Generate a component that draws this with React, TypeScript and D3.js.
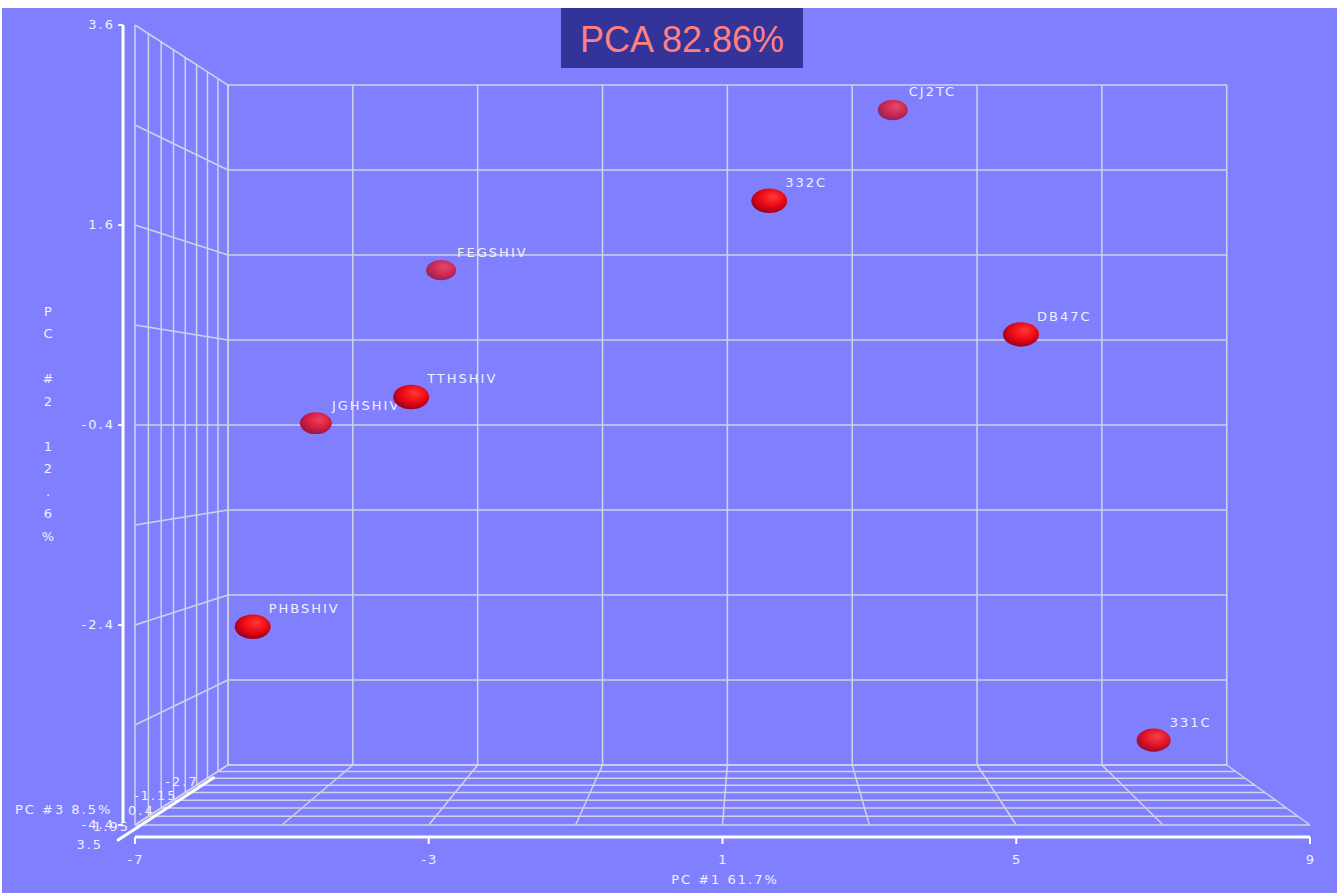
import React from "react";
import * as d3 from "d3";

// ---- data ----
const labels = ["CJ2TC", "332C", "FEGSHIV", "DB47C", "TTHSHIV", "JGHSHIV", "PHBSHIV", "331C"];
const pc1 = [3.55, 1.65, -3.36, 5.32, -3.57, -5.17, -5.88, 7.35];
const pc2 = [3.14, 2.0, 1.34, 0.57, -0.1, -0.38, -2.56, -3.83];
const pc3 = [-0.84, 1.02, -0.84, 1.02, 1.02, -0.22, 1.02, 0.4];

const xTicks = [-7, -3, 1, 5, 9];
const yTicks = [3.6, 1.6, -0.4, -2.4, -4.4];
const zTicks = [3.5, 1.95, 0.4, -1.15, -2.7];
const xGrid = [-7, -5, -3, -1, 1, 3, 5, 7, 9];
const yGrid = [3.6, 2.6, 1.6, 0.6, -0.4, -1.4, -2.4, -3.4, -4.4];
const zGrid = [3.5, 2.725, 1.95, 1.175, 0.4, -0.375, -1.15, -1.925, -2.7];

const title = "PCA 82.86%";
const xTitle = "PC #1 61.7%";
const yTitle = "PC #2 12.6%";
const zTitle = "PC #3 8.5%";

// ---- layout ----
const W = 1335;
const H = 885;
const OX = 2; // svg offset in page
const OY = 8;
const BG = "#8080ff";
const GRID = "#d2d2e6";
const FONT = "'DejaVu Sans', Verdana, sans-serif";

const xScale = d3.scaleLinear().domain([-7, 9]).range([135 - OX, 1310 - OX]);
const yScale = d3.scaleLinear().domain([-4.4, 3.6]).range([825 - OY, 25 - OY]);
const zScale = d3.scaleLinear().domain([3.5, -2.7]).range([0, 1]);
const cx = 755 - OX;
const cy = 425 - OY;
const K = 0.1765;

function proj(x: number, y: number, z: number): [number, number] {
  const t = zScale(z);
  const s = 1 / (1 + K * t);
  return [cx + (xScale(x) - cx) * s, cy + (yScale(y) - cy) * s];
}

function seg(a: [number, number], b: [number, number], key: string, stroke = GRID, w = 1.5) {
  return <line key={key} x1={a[0]} y1={a[1]} x2={b[0]} y2={b[1]} stroke={stroke} strokeWidth={w} />;
}

export default function App() {
  const xMin = -7, xMax = 9, yMin = -4.4, yMax = 3.6, zFront = 3.5, zBack = -2.7;
  const lines: React.ReactNode[] = [];
  // back wall
  xGrid.forEach((x, i) => lines.push(seg(proj(x, yMin, zBack), proj(x, yMax, zBack), "bv" + i)));
  yGrid.forEach((y, i) => lines.push(seg(proj(xMin, y, zBack), proj(xMax, y, zBack), "bh" + i)));
  // left wall
  yGrid.forEach((y, i) => lines.push(seg(proj(xMin, y, zFront), proj(xMin, y, zBack), "lh" + i)));
  zGrid.forEach((z, i) => lines.push(seg(proj(xMin, yMin, z), proj(xMin, yMax, z), "lv" + i)));
  // floor
  xGrid.forEach((x, i) => lines.push(seg(proj(x, yMin, zFront), proj(x, yMin, zBack), "fx" + i)));
  zGrid.forEach((z, i) => lines.push(seg(proj(xMin, yMin, z), proj(xMax, yMin, z), "fz" + i)));

  // axes (offset from box)
  const axX = -7.163; // y axis position
  const axY = -4.52; // x axis position
  const zAxX = -7.23, zAxY = -4.55;
  const textStyle = { fontFamily: FONT, fontSize: 13, letterSpacing: 2, fill: "#f0f0ff" } as const;

  const pts = labels
    .map((l, i) => {
      const [px, py] = proj(pc1[i], pc2[i], pc3[i]);
      const t = zScale(pc3[i]);
      return { l, i, px, py, t };
    })
    .sort((a, b) => b.t - a.t);

  const fogMix = (c: string, t: number) => d3.interpolateRgb(c, BG)(Math.max(0, (t - 0.4) * 0.9));

  const [zx0, zy0] = proj(zAxX, zAxY, zFront);
  const [zx1, zy1] = proj(zAxX, zAxY, zBack);

  return (
    <svg width={W} height={H} style={{ position: "absolute", left: OX, top: OY, display: "block" }}>
      <defs>
        {pts.map((p) => (
          <radialGradient key={"g" + p.i} id={"grad" + p.i} cx="55%" cy="40%" r="60%" fx="62%" fy="32%">
            <stop offset="0%" stopColor={fogMix("#ff3a3a", p.t)} />
            <stop offset="55%" stopColor={fogMix("#f00a14", p.t)} />
            <stop offset="100%" stopColor={fogMix("#9a0020", p.t)} />
          </radialGradient>
        ))}
      </defs>
      <rect x={0} y={0} width={W} height={H} fill={BG} />
      {lines}

      {/* y axis */}
      {seg(proj(axX, yMin + 0.03, zFront), proj(axX, yMax, zFront), "yax", "#ffffff", 3)}
      {yTicks.map((v, i) => {
        const [x, y] = proj(axX, v, zFront);
        return (
          <g key={"yt" + i}>
            <line x1={x - 5} x2={x} y1={y} y2={y} stroke="#ffffff" strokeWidth={2} />
            <text x={x - 8} y={y} textAnchor="end" dominantBaseline="middle" {...textStyle}>
              {v}
            </text>
          </g>
        );
      })}
      {yTitle.split("").map((ch, i) => (
        <text key={"ytl" + i} x={48 - OX} y={312 - OY + i * 22.5} textAnchor="middle" dominantBaseline="middle" {...textStyle} letterSpacing={0}>
          {ch}
        </text>
      ))}

      {/* x axis */}
      {seg(proj(xMin, axY, zFront), proj(xMax, axY, zFront), "xax", "#ffffff", 3)}
      {xTicks.map((v, i) => {
        const [x, y] = proj(v, axY, zFront);
        return (
          <g key={"xt" + i}>
            <line x1={x} x2={x} y1={y} y2={y + 7} stroke="#ffffff" strokeWidth={2} />
            <text x={x + 1} y={y + 23} textAnchor="middle" dominantBaseline="middle" {...textStyle}>
              {v}
            </text>
          </g>
        );
      })}
      <text x={725 - OX} y={880 - OY} textAnchor="middle" dominantBaseline="middle" {...textStyle}>
        {xTitle}
      </text>

      {/* z axis */}
      <line x1={zx0} y1={zy0} x2={zx1} y2={zy1} stroke="#ffffff" strokeWidth={3} />
      {zTicks.map((v, i) => {
        const [x, y] = proj(zAxX, zAxY, v);
        return (
          <g key={"zt" + i}>
            <circle cx={x} cy={y} r={1.5} fill="#ffffff" />
            <text x={x - 15} y={y + 5} textAnchor="end" dominantBaseline="middle" {...textStyle}>
              {v}
            </text>
          </g>
        );
      })}
      <text x={15 - OX} y={810 - OY} dominantBaseline="middle" {...textStyle}>
        {zTitle}
      </text>

      {/* points */}
      {pts.map((p) => {
        const rx = 22 - 10 * p.t;
        const ry = rx * 0.68;
        return (
          <g key={"p" + p.i}>
            <ellipse cx={p.px} cy={p.py} rx={rx} ry={ry} fill={`url(#grad${p.i})`} />
            <text x={p.px + 16} y={p.py - 17} dominantBaseline="middle" {...textStyle}>
              {p.l}
            </text>
          </g>
        );
      })}

      {/* title */}
      <rect x={561 - OX} y={0} width={242} height={60} fill="#333399" />
      <text x={682 - OX} y={52 - OY} textAnchor="middle" fontFamily="'Liberation Sans', Arial, sans-serif" fontSize={36} fill="#ff8080">
        {title}
      </text>
    </svg>
  );
}
